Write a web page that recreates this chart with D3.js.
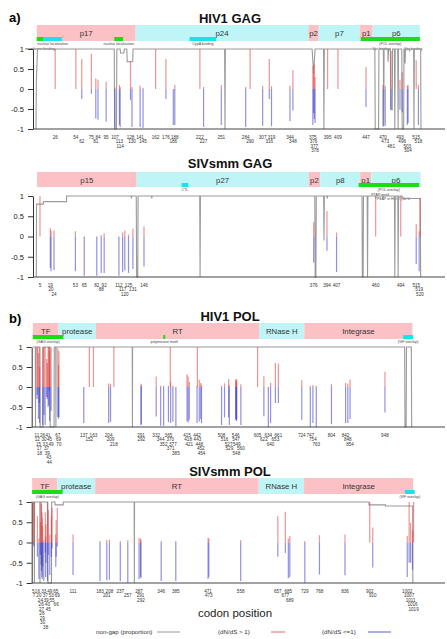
<!DOCTYPE html>
<html>
<head>
<meta charset="utf-8">
<script src="https://cdn.jsdelivr.net/npm/d3@7"></script>
<style>
  body { margin: 0; background: #fff; }
  text { font-family: "Liberation Sans", Arial, sans-serif; }
</style>
</head>
<body>
<div id="chart"></div>
<script>
// ---- data: HIV1 GAG ----
var hivGagSites = [26,54,62,75,81,84,95,107,113,114,128,130,141,145,162,176,186,188,222,227,251,284,290,307,316,319,344,348,375,376,377,378,395,409,447,470,473,481,493,496,503,504,515,518];
var hivGagUp    = [1,1,.75,.88,.26,.23,.18,.03,.1,.05,.7,.05,.08,.03,1,.75,0,.1,1,.05,.1,.05,1,.08,.75,.07,.08,.47,.57,.43,.62,.3,1,1,.55,.1,.08,.95,.23,.42,.08,.1,.72,.1];
var hivGagDown  = [0,0,-.25,-.12,-.74,-.77,-.82,-.97,-.9,-.95,-.28,-.95,-.95,-.97,0,-.25,-.9,-.9,0,-.95,-.9,-.95,0,-.92,-.25,-.93,-.8,-.54,-.9,-.6,-.75,-.85,0,0,-.45,-.93,-.92,-.5,-.52,-.58,-.9,-.85,0,-.9];
var hivGagDomains = [["p17",1,135],["p24",135,369],["p2",369,383],["p7",383,439],["p1",439,456],["p6",456,520]];
var hivGagNotes = [["nuclear localization",10,35,"cyan"],["membrane binding",1,10,"green"],["nuclear localization",106,118,"green"],
                   ["CypA binding",208,244,"cyan"],["(POL overlap)",440,520,"green"],["Vpr binding",468,468,null],["Vpr binding",511,511,null]];
var hivGagNonGap = [[0,0],[0.5,0.6],[2,1],[106,1],[106.5,0],[109,0],[109.5,1],[114,1],[114.5,0.95],[119,0.95],[119.5,1],[123,1],[123.5,0.84],[131,0.84],[131.5,1],
  [255.5,1],[256,0],[256.5,1],[374,1],[376,0.7],[378,1],[389.5,1],[390,0],[390.5,1],[459,1],[459.5,0],[464,0],[464.5,1],[470.5,1],[471,0.03],[471.5,1],
  [476.5,1],[477,0.84],[477.5,1],[480,1],[480.5,0.24],[482.5,0.24],[483,1],[485.5,1],[486,0],[486.5,1],[490,1],[490.5,0],[491,1],[495.5,1],[496,0],[498,0],[498.5,1],
  [499.5,1],[500,0.82],[500.5,1],[505.5,1],[506,0.97],[506.5,1],[511.5,1],[512,0],[512.5,1],[521,1],[521.5,0]];

// ---- data: SIVsmm GAG ----
var sivGagSites = [5,19,20,24,53,65,82,88,92,112,117,120,125,131,146,376,394,407,460,494,515,519,520];
var sivGagUp    = [1,.21,.15,.15,.13,0,0,.04,.08,0,.1,.15,.05,.19,.25,.35,.63,.1,.96,1,.3,.13,.95];
var sivGagDown  = [0,-.78,-.86,-.83,-.86,-.97,-.97,-.9,-.9,-.97,-.88,-.84,-.9,-.8,-.74,-.64,-.35,-.88,0,0,-.68,-.86,0];
var sivGagDomains = [["p15",1,136],["p27",136,369],["p2",369,385],["p8",385,439],["p1",439,454],["p6",454,521]];
var sivGagNotes = [["CTL",197,206,"cyan"],["(POL overlap)",437,519,"green"],["PTAP motif",466,466,null],["PSAP in HIV-2 (SL U",484,484,null]];
var sivGagNonGap = [[0,0],[0.3,0.9],[9.5,0.9],[9.5,0.93],[41,0.93],[41,1],[128.5,1],[129,0.97],[129.5,1],[135.5,1],[136,0],[137.5,0],[138,1],[156,1],[156.5,0.97],[157,1],
  [221.5,1],[222,0],[222.5,1],[377.5,1],[378,0],[379,0],[379.5,1],[389.5,1],[390,0.45],[390.5,1],[394,1],[394.5,0.97],[395,1],[441.5,1],[442,0],[443,0],[443.5,1],
  [448.5,1],[449,0],[449.5,1],[459.5,1],[460,0.97],[460.5,1],[469.5,1],[470,0.97],[470.5,1],[485.5,1],[486,0],[486.5,1],[490,1],[490.5,0],[491,1],[496,1],[496,0.97],[520.5,0.97],[521,0]];

// ---- data: HIV1 POL ----
var hivPolSites = [11,12,15,17,18,26,30,33,37,39,41,43,44,45,49,67,69,70,137,152,163,204,209,218,291,292,332,344,352,365,370,371,377,385,415,418,421,442,443,448,452,454,
                   508,516,527,529,546,547,548,549,560,605,622,634,640,653,661,724,747,754,763,804,842,848,854,948];
var hivPolUp    = [1,1,.85,1,.5,1,1,1,.7,.6,1,1,1,.9,1,.97,.55,.9,0,1,1,.09,.08,1,.08,.05,.26,.03,.03,.03,1,.13,.03,0,.32,.26,.13,.03,1,.18,.1,.05,
                   .03,.09,.2,.05,.17,.2,.13,.19,.07,1,.27,0,.1,.6,.58,.17,.03,.05,.03,.08,.1,.09,.19,.38];
var hivPolDown  = [-.3,-.2,-.8,-.4,-.9,-.95,-.7,-.95,-.25,-.3,-.5,-.45,-.1,-.85,-.6,-.75,-.8,-.75,-.9,0,0,-.9,-.87,0,-.95,-.93,-.74,-.97,-.97,-.88,0,-.9,-.86,-.98,-.86,-.88,-.82,-.9,0,-.86,-.8,-.9,
                   -.95,-.76,-.76,-.95,-.82,-.8,-.85,-.82,-.95,0,-.73,-1,-.9,-.4,-.4,-.82,-1,-.9,-1,-.93,-.9,-.9,-.8,-.64];
var hivPolDomains = [["TF",0,69],["protease",69,170],["RT",170,609],["RNase H",609,731],["Integrase",731,1022]];
var hivPolNotes = [["(GAG overlap)",0,82,"green"],["polymerase motif",351,356,"green"],["(VIF overlap)",997,1024,"cyan"]];
var hivPolNonGap = [[0,1],[6.5,1],[7,0],[7.5,1],[19,1],[19.5,0],[27.5,0],[28,1],[46,1],[46.5,0],[57,0],[57.5,1],[61.5,1],[62,0],[62.5,1],
  [267.5,1],[268,0],[268.5,1],[1001,1],[1002,0],[1005,0],[1006,1],[1019,1],[1020,0]];

// ---- data: SIVsmm POL ----
var sivPolSites = [5,7,16,20,24,26,27,28,29,30,33,37,38,39,43,45,49,53,55,65,66,69,111,183,201,208,237,257,287,291,292,346,385,471,473,
                   558,657,677,685,689,729,768,836,902,910,1002,1007,1011,1016,1019];
var sivPolUp    = [1,1,.65,.1,.5,1,.95,.75,.6,.4,.05,.75,.15,.45,1,.8,.2,.65,.85,.2,.55,.85,.2,.04,.06,.07,.04,.06,.12,.1,.06,.04,.04,.12,.1,
                   .06,.65,.76,.1,.16,.04,.18,.2,1,.37,.16,1,.49,.3,1];
var sivPolDown  = [-.05,-.1,-.35,-.9,-.3,-.55,-.7,-.85,-.9,-.6,-.95,-.25,-.85,-.5,-.95,-.3,-.8,-.35,-.15,-.6,-.35,-.1,-.8,-.95,-.93,-.92,-.95,-1,-.9,-.85,-.88,-.95,-.95,-.9,-.85,
                   -.95,-.35,-.26,-.88,-.85,-1,-.79,-.81,0,-.62,-.85,-.5,-.5,-.67,0];
var sivPolDomains = [["TF",2,69],["protease",69,170],["RT",170,606],["RNase H",606,727],["Integrase",727,1018]];
var sivPolNotes = [["(GAG overlap)",2,83,"green"],["(VIF overlap)",996,1022,"cyan"]];
var sivPolNonGap = [[0,1],[7.5,1],[8,0],[8.5,1],[22.5,1],[23,0],[23.5,1],[43.5,1],[44,0],[53.5,0],[54,1],[63,1],[63,0.965],[85,0.965],[85,1],
  [274,1],[274.5,0],[275,1],[900,1],[900,0.965],[944,0.965],[944,0.95],[1016.5,0.95],[1017,0]];

var yTicks = [-1, -0.5, 0, 0.5, 1];

// ---- layout ----
var width = 447, height = 639;
var bandFill = ["#fbc1c4", "#bff5f6"];
var noteFill = {green: "#19dd19", cyan: "#19e3ea"};
var redCol = "rgb(225,60,60)", blueCol = "rgb(55,55,200)", grayCol = "#9a9a9a";

var panels = [
  {title: "HIV1 GAG", sites: hivGagSites, up: hivGagUp, down: hivGagDown, domains: hivGagDomains, notes: hivGagNotes, nonGap: hivGagNonGap,
   xmax: 554, x0: 36, x1: 445, axisX: 33, titleY: 23, bandTop: 25, bandBot: 41, top: 49, bot: 129, labPad: 1},
  {title: "SIVsmm GAG", sites: sivGagSites, up: sivGagUp, down: sivGagDown, domains: sivGagDomains, notes: sivGagNotes, nonGap: sivGagNonGap,
   xmax: 554, x0: 36.3, x1: 445, axisX: 33, titleY: 168, bandTop: 172, bandBot: 187, top: 196, bot: 277, labPad: 1},
  {title: "HIV1 POL", sites: hivPolSites, up: hivPolUp, down: hivPolDown, domains: hivPolDomains, notes: hivPolNotes, nonGap: hivPolNonGap,
   xmax: 1107, x0: 32.9, x1: 444, axisX: 31.7, titleY: 321, bandTop: 323, bandBot: 339, top: 347, bot: 427, labPad: 0.3},
  {title: "SIVsmm POL", sites: sivPolSites, up: sivPolUp, down: sivPolDown, domains: sivPolDomains, notes: sivPolNotes, nonGap: sivPolNonGap,
   xmax: 1100, x0: 31.4, x1: 444, axisX: 31.7, titleY: 476, bandTop: 478, bandBot: 494, top: 502, bot: 583, labPad: 0.3}
];

var svg = d3.select("#chart").append("svg")
  .attr("width", width).attr("height", height);

// greedy stacking of crowded labels into rows
function stackRows(items, x, fs, pad) {
  var rightEdge = [];
  return items.map(function(d) {
    var w = d.text.length * fs * 0.55, cx = x(d.pos), l = cx - w / 2, r = 0;
    while (rightEdge[r] !== undefined && l < rightEdge[r] + pad) r++;
    rightEdge[r] = cx + w / 2;
    return r;
  });
}

panels.forEach(function(p) {
  var x = d3.scaleLinear().domain([0, p.xmax]).range([p.x0, p.x1]);
  var y = d3.scaleLinear().domain([-1, 1]).range([p.bot, p.top]);
  var g = svg.append("g");

  // title
  g.append("text").attr("x", 230).attr("y", p.titleY)
    .attr("text-anchor", "middle").style("font-size", "13px").style("font-weight", "bold")
    .attr("fill", "#111").text(p.title);

  // domain band
  g.selectAll(".dom").data(p.domains).enter().append("rect")
    .attr("x", function(d) { return x(d[1]); })
    .attr("width", function(d) { return x(d[2]) - x(d[1]); })
    .attr("y", p.bandTop).attr("height", p.bandBot - p.bandTop)
    .attr("fill", function(d, i) { return bandFill[i % 2]; });
  g.selectAll(".domlab").data(p.domains).enter().append("text")
    .attr("x", function(d) { return (x(d[1]) + x(d[2])) / 2; })
    .attr("y", (p.bandTop + p.bandBot) / 2 + 3)
    .attr("text-anchor", "middle").style("font-size", "7.8px").attr("fill", "#333")
    .text(function(d) { return d[0]; });

  // annotations under the band
  g.selectAll(".note").data(p.notes.filter(function(d) { return d[3]; })).enter().append("rect")
    .attr("x", function(d) { return x(d[1]); })
    .attr("width", function(d) { return Math.max(2, x(d[2]) - x(d[1])); })
    .attr("y", p.bandBot - 4).attr("height", 4)
    .attr("fill", function(d) { return noteFill[d[3]]; });
  var noteItems = p.notes.map(function(d) { return {pos: (d[1] + d[2]) / 2, text: d[0]}; });
  var noteRows = stackRows(noteItems, x, 3.6, 1);
  g.selectAll(".notelab").data(noteItems).enter().append("text")
    .attr("x", function(d) { return x(d.pos); })
    .attr("y", function(d, i) { return p.bandBot + 4.3 + noteRows[i] * 4.4; })
    .attr("text-anchor", "middle").style("font-size", "3.6px").attr("fill", "#444")
    .text(function(d) { return d.text; });

  // non-gap proportion, drawn on the -1..1 scale
  g.append("path").datum(p.nonGap)
    .attr("fill", "none").attr("stroke", grayCol).attr("stroke-width", 1.1)
    .attr("d", d3.line()
      .x(function(d) { return x(d[0]); })
      .y(function(d) { return y(2 * d[1] - 1); }));

  // selection bars
  var bars = p.sites.map(function(s, i) { return {pos: s, up: p.up[i], down: p.down[i]}; });
  g.selectAll(".up").data(bars.filter(function(d) { return d.up > 0; })).enter().append("line")
    .attr("x1", function(d) { return x(d.pos); }).attr("x2", function(d) { return x(d.pos); })
    .attr("y1", y(0)).attr("y2", function(d) { return y(d.up); })
    .attr("stroke", redCol).attr("stroke-opacity", 0.55).attr("stroke-width", 1.2);
  g.selectAll(".down").data(bars.filter(function(d) { return d.down < 0; })).enter().append("line")
    .attr("x1", function(d) { return x(d.pos); }).attr("x2", function(d) { return x(d.pos); })
    .attr("y1", y(0)).attr("y2", function(d) { return y(d.down); })
    .attr("stroke", blueCol).attr("stroke-opacity", 0.55).attr("stroke-width", 1.2);

  // y axis
  var ax = g.append("g").attr("transform", "translate(" + p.axisX + ",0)")
    .call(d3.axisLeft(y).tickValues(yTicks).tickSize(5).tickSizeOuter(0).tickPadding(4)
      .tickFormat(function(d) { return String(d); }));
  ax.select(".domain").attr("stroke", "#333");
  ax.selectAll(".tick line").attr("stroke", "#333");
  ax.selectAll("text").style("font-size", "7.5px").attr("fill", "#222")
    .style("font-family", '"Liberation Sans", Arial, sans-serif');

  // bottom line
  g.append("line").attr("x1", p.axisX).attr("x2", 445)
    .attr("y1", y(-1)).attr("y2", y(-1)).attr("stroke", "#444").attr("stroke-width", 1);

  // site labels
  var labItems = p.sites.map(function(s) { return {pos: s, text: String(s)}; });
  var labRows = stackRows(labItems, x, 4.6, p.labPad);
  g.selectAll(".sitelab").data(labItems).enter().append("text")
    .attr("x", function(d) { return x(d.pos); })
    .attr("y", function(d, i) { return p.bot + 9.5 + labRows[i] * 4.5; })
    .attr("text-anchor", "middle").style("font-size", "4.6px").attr("fill", "#333")
    .text(function(d) { return d.text; });
});

// panel tags
svg.append("text").attr("x", 9).attr("y", 22).style("font-size", "13px").style("font-weight", "bold").text("a)");
svg.append("text").attr("x", 9).attr("y", 323).style("font-size", "13px").style("font-weight", "bold").text("b)");

// x title
svg.append("text").attr("x", 235).attr("y", 617).attr("text-anchor", "middle")
  .style("font-size", "11.5px").attr("fill", "#222").text("codon position");

// legend
var legend = [
  {label: "non-gap (proportion)", tx: 96, x1: 157, x2: 180, col: grayCol},
  {label: "(dN/dS > 1)", tx: 218, x1: 271, x2: 285, col: "#e06a6a"},
  {label: "(dN/dS <=1)", tx: 322, x1: 368, x2: 391, col: "#5a5ad2"}
];
legend.forEach(function(l) {
  svg.append("text").attr("x", l.tx).attr("y", 634).style("font-size", "6.2px").attr("fill", "#333").text(l.label);
  svg.append("line").attr("x1", l.x1).attr("x2", l.x2).attr("y1", 632).attr("y2", 632)
    .attr("stroke", l.col).attr("stroke-width", 1);
});
</script>
</body>
</html>
